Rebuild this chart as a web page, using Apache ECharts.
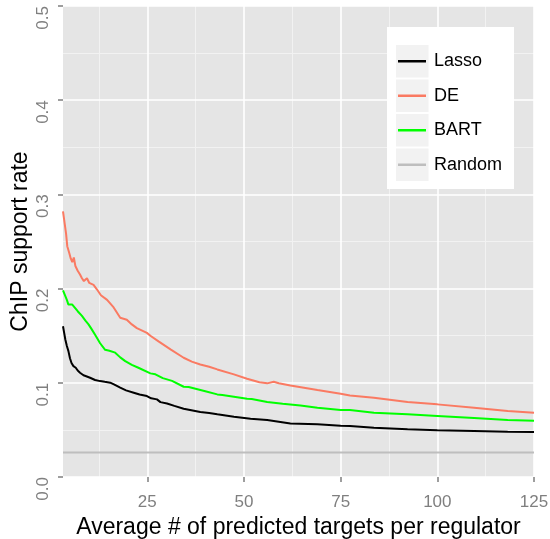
<!DOCTYPE html>
<html>
<head>
<meta charset="utf-8">
<script src="https://cdn.jsdelivr.net/npm/echarts@6/dist/echarts.min.js"></script>
<style>
  html, body { margin: 0; padding: 0; background: #ffffff; }
  #chart { width: 550px; height: 539px; }
</style>
</head>
<body>
<div id="chart"></div>
<script>
// ChIP support rate versus average number of predicted targets per regulator
const seriesNames = ['Lasso', 'DE', 'BART', 'Random'];

const lassoX = [3.2, 3.5, 3.8, 4.2, 4.6, 5.0, 5.4, 5.9, 6.5, 7.0, 7.6, 8.5, 9.2, 10.2, 11.5, 12.8, 14.0, 15.4, 16.5, 18.0, 19.5, 21.5, 23.0, 24.9, 26.0, 27.5, 28.4, 30.1, 32.0, 34.4, 38.7, 41.0, 43.1, 47.4, 51.7, 56.0, 62.0, 69.0, 75.0, 77.4, 83.6, 92.3, 100, 109.5, 118.2, 125];
const lassoY = [0.160, 0.153, 0.146, 0.139, 0.1336, 0.126, 0.121, 0.1177, 0.116, 0.113, 0.1107, 0.108, 0.107, 0.1054, 0.103, 0.1018, 0.1010, 0.1001, 0.098, 0.0948, 0.092, 0.0895, 0.0875, 0.0859, 0.0835, 0.0824, 0.0795, 0.0781, 0.0755, 0.0725, 0.0689, 0.0680, 0.0665, 0.0640, 0.0619, 0.0604, 0.0569, 0.0559, 0.0545, 0.0541, 0.0524, 0.0506, 0.0495, 0.0488, 0.0481, 0.0477];

const deX = [3.2, 3.6, 4.0, 4.3, 4.8, 5.2, 5.6, 6.0, 6.4, 7.0, 7.6, 8.1, 8.6, 9.4, 10.0, 11.1, 12.0, 13.0, 14.6, 16.3, 18.0, 19.7, 21.0, 22.3, 24.9, 25.8, 27.9, 28.4, 31.0, 34.4, 36.5, 38.7, 41.0, 43.1, 47.4, 50.8, 54.0, 56.0, 57.7, 59.0, 62.0, 69.0, 75.0, 77.4, 83.6, 92.3, 100, 109.5, 118.2, 125];
const deY = [0.282, 0.270, 0.258, 0.245, 0.238, 0.232, 0.228, 0.233, 0.224, 0.219, 0.215, 0.211, 0.208, 0.211, 0.206, 0.204, 0.199, 0.193, 0.188, 0.180, 0.169, 0.167, 0.162, 0.158, 0.153, 0.150, 0.144, 0.1425, 0.1354, 0.1266, 0.1225, 0.1195, 0.117, 0.1142, 0.1089, 0.1043, 0.1005, 0.0994, 0.1011, 0.0995, 0.0972, 0.0923, 0.0884, 0.0865, 0.0842, 0.0795, 0.0771, 0.0736, 0.0700, 0.0683];

const bartX = [3.2, 3.7, 4.2, 4.6, 5.1, 5.6, 6.0, 7.0, 8.1, 9.0, 9.8, 10.6, 11.5, 12.8, 14.1, 15.2, 16.7, 18.0, 19.3, 21.0, 22.7, 25.8, 27.1, 29.0, 31.4, 34.4, 35.7, 40.0, 43.1, 44.4, 50.8, 52.0, 56.0, 60.0, 64.6, 69.0, 75.0, 77.4, 83.6, 92.3, 100, 109.5, 118.2, 125];
const bartY = [0.198, 0.193, 0.188, 0.183, 0.181, 0.183, 0.181, 0.176, 0.171, 0.166, 0.162, 0.157, 0.151, 0.142, 0.135, 0.134, 0.132, 0.127, 0.123, 0.119, 0.116, 0.110, 0.109, 0.105, 0.102, 0.0958, 0.0955, 0.0910, 0.0877, 0.0870, 0.0831, 0.0828, 0.0796, 0.0778, 0.0760, 0.0736, 0.0712, 0.0710, 0.0683, 0.0665, 0.0647, 0.0626, 0.0604, 0.0598];

const randomX = [3.2, 125];
const randomY = [0.026, 0.026];

const xRange = [3.2, 125];
const xTicks = [25, 50, 75, 100, 125];
const xMinorTicks = [12.5, 37.5, 62.5, 87.5, 112.5];
const yTicks = [0, 0.1, 0.2, 0.3, 0.4, 0.5];
const yMinorTicks = [0.05, 0.15, 0.25, 0.35, 0.45];

const colors = { Lasso: '#000000', DE: '#FA7A62', BART: '#00FF00', Random: '#BEBEBE' };
const FONT = "'Liberation Sans', Arial, Helvetica, sans-serif";

const pairs = (xs, ys) => xs.map((x, i) => [x, ys[i]]);

const chart = echarts.init(document.getElementById('chart'), null, { renderer: 'canvas' });

const minorAxisX = {
  type: 'value', min: xRange[0], max: xRange[1], position: 'top', z: 0,
  axisLine: { show: false }, axisLabel: { show: false },
  axisTick: { show: false, customValues: xMinorTicks },
  splitLine: { show: true, lineStyle: { color: '#F2F2F2', width: 1 } }
};
const majorAxisX = {
  type: 'value', min: xRange[0], max: xRange[1], position: 'bottom', z: 1,
  name: 'Average # of predicted targets per regulator',
  nameLocation: 'middle', nameGap: 36,
  nameTextStyle: { fontFamily: FONT, fontSize: 23, color: '#000000' },
  axisLine: { show: false },
  axisTick: { show: true, customValues: xTicks, length: 5, lineStyle: { color: '#7F7F7F', width: 1.5 } },
  axisLabel: { customValues: xTicks, margin: 17, fontFamily: FONT, fontSize: 17, color: '#7F7F7F' },
  splitLine: { show: true, lineStyle: { color: '#FFFFFF', width: 1.6 } }
};
const minorAxisY = {
  type: 'value', min: 0, max: 0.5, position: 'left', z: 0,
  axisLine: { show: false }, axisLabel: { show: false },
  axisTick: { show: false, customValues: yMinorTicks },
  splitLine: { show: true, lineStyle: { color: '#F2F2F2', width: 1 } }
};
const majorAxisY = {
  type: 'value', min: 0, max: 0.5, position: 'left', z: 1,
  name: 'ChIP support rate',
  nameLocation: 'middle', nameGap: 31, nameMoveOverlap: false,
  nameTextStyle: { fontFamily: FONT, fontSize: 23, color: '#000000' },
  axisLine: { show: false },
  axisTick: { show: true, customValues: yTicks, length: 5, lineStyle: { color: '#7F7F7F', width: 1.5 } },
  axisLabel: {
    customValues: yTicks, rotate: 90, align: 'right', margin: 11,
    fontFamily: FONT, fontSize: 17, color: '#7F7F7F',
    formatter: v => v.toFixed(1)
  },
  splitLine: { show: true, lineStyle: { color: '#FFFFFF', width: 1.6 } }
};

const lineSeries = (name, xs, ys) => ({
  name, type: 'line', xAxisIndex: 1, yAxisIndex: 1,
  data: pairs(xs, ys), showSymbol: false, symbol: 'none', smooth: false,
  lineStyle: { color: colors[name], width: 2 }, itemStyle: { color: colors[name] },
  z: 2, animation: false
});

// legend panel: white box with grey key tiles behind the legend entries
const keyTops = [45, 79.5, 114, 148.5];
const legendGraphics = [
  { type: 'rect', shape: { x: 387, y: 27, width: 127, height: 162 }, style: { fill: '#FFFFFF' }, z: 5 }
].concat(keyTops.map(t => ({
  type: 'rect', shape: { x: 396, y: t, width: 32.5, height: 32.5 }, style: { fill: '#F2F2F2' }, z: 5
})));

chart.setOption({
  animation: false,
  backgroundColor: '#FFFFFF',
  textStyle: { fontFamily: FONT },
  grid: {
    left: 63, right: 16, top: 6, bottom: 62, show: true, backgroundColor: '#E5E5E5', borderWidth: 0,
    containLabel: false, outerBoundsMode: 'none'
  },
  xAxis: [minorAxisX, majorAxisX],
  yAxis: [minorAxisY, majorAxisY],
  graphic: legendGraphics,
  legend: {
    data: seriesNames, orient: 'vertical', left: 398, top: 44, padding: 0, itemGap: 0,
    icon: 'rect', itemWidth: 28, itemHeight: 2.5, z: 6,
    textStyle: { fontFamily: FONT, fontSize: 18, color: '#000000', lineHeight: 34.5, padding: [0, 0, 0, 3] }
  },
  series: [
    lineSeries('Lasso', lassoX, lassoY),
    lineSeries('DE', deX, deY),
    lineSeries('BART', bartX, bartY),
    lineSeries('Random', randomX, randomY)
  ]
});
</script>
</body>
</html>
